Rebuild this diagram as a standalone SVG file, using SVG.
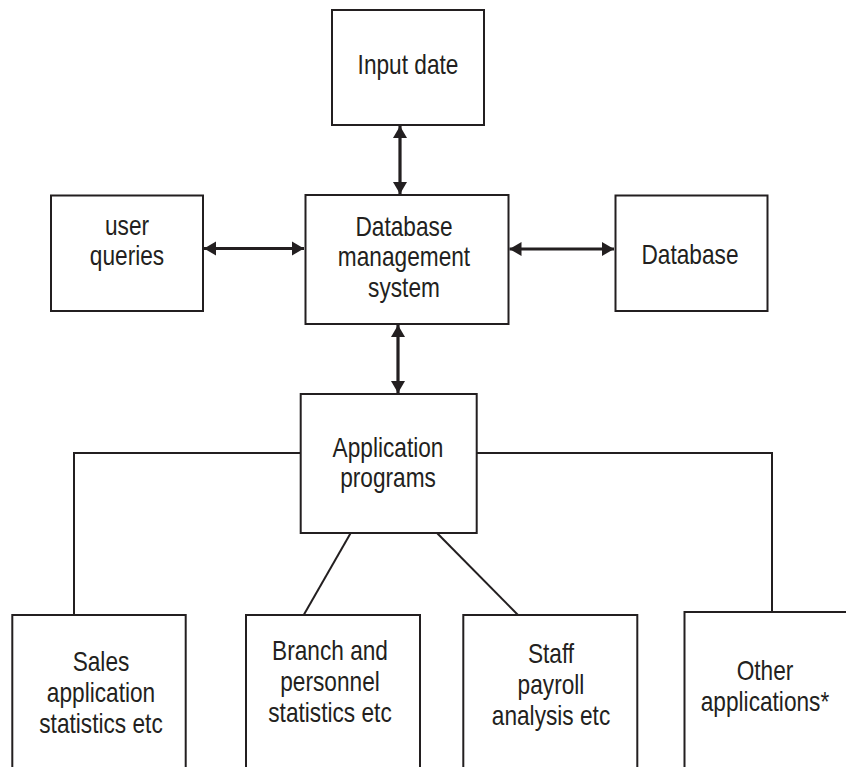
<svg xmlns="http://www.w3.org/2000/svg" width="846" height="767" viewBox="0 0 846 767">
<defs>
<style>
.box{fill:#fff;stroke:#231f20;stroke-width:2}
.lbl{font-family:"Liberation Sans",Arial,sans-serif;font-size:27px;fill:#231f20;text-anchor:middle}
.arr{stroke:#231f20;stroke-width:3.2;fill:none;marker-start:url(#ah);marker-end:url(#ah)}
.ln{stroke:#231f20;stroke-width:2;fill:none}
</style>
<marker id="ah" markerUnits="userSpaceOnUse" markerWidth="14" markerHeight="16" refX="12" refY="7" orient="auto-start-reverse" viewBox="0 0 14 14">
<path d="M0,0 L12,7 L0,14 z" fill="#231f20"/>
</marker>
</defs>
<rect width="846" height="767" fill="#fff"/>
<g id="connectors">
<line class="arr" x1="400" y1="126" x2="400" y2="194"/>
<line class="arr" x1="204" y1="248.5" x2="304" y2="248.5"/>
<line class="arr" x1="509.5" y1="249" x2="614" y2="249"/>
<line class="arr" x1="398" y1="325" x2="398" y2="393"/>
<polyline class="ln" points="300.7,453 74,453 74,615"/>
<polyline class="ln" points="476.7,453 772,453 772,612"/>
<line class="ln" x1="350.7" y1="533" x2="303.7" y2="615"/>
<line class="ln" x1="437" y1="533" x2="518" y2="615"/>
</g>
<g id="input-date">
<rect class="box" x="332" y="10" width="152" height="115"/>
<text class="lbl" transform="translate(408,74) scale(0.84,1)">Input date</text>
</g>
<g id="user-queries">
<rect class="box" x="51" y="195.5" width="152" height="115.5"/>
<text class="lbl" transform="translate(127,235) scale(0.84,1)">user</text>
<text class="lbl" transform="translate(127,265) scale(0.84,1)">queries</text>
</g>
<g id="dbms">
<rect class="box" x="305.5" y="195" width="203" height="129"/>
<text class="lbl" transform="translate(404,235.5) scale(0.84,1)">Database</text>
<text class="lbl" transform="translate(404,266) scale(0.84,1)">management</text>
<text class="lbl" transform="translate(404,297) scale(0.84,1)">system</text>
</g>
<g id="database">
<rect class="box" x="615.5" y="195.5" width="152" height="115.5"/>
<text class="lbl" transform="translate(690,263.5) scale(0.84,1)">Database</text>
</g>
<g id="application-programs">
<rect class="box" x="300.7" y="394" width="176" height="139"/>
<text class="lbl" transform="translate(388,456.5) scale(0.84,1)">Application</text>
<text class="lbl" transform="translate(388,487) scale(0.84,1)">programs</text>
</g>
<g id="sales">
<rect class="box" x="12.3" y="615" width="173.4" height="170"/>
<text class="lbl" transform="translate(101,671) scale(0.84,1)">Sales</text>
<text class="lbl" transform="translate(101,702) scale(0.84,1)">application</text>
<text class="lbl" transform="translate(101,733) scale(0.84,1)">statistics etc</text>
</g>
<g id="branch">
<rect class="box" x="246" y="615" width="174" height="170"/>
<text class="lbl" transform="translate(330,660) scale(0.84,1)">Branch and</text>
<text class="lbl" transform="translate(330,691) scale(0.84,1)">personnel</text>
<text class="lbl" transform="translate(330,722) scale(0.84,1)">statistics etc</text>
</g>
<g id="staff">
<rect class="box" x="463.3" y="615" width="174" height="170"/>
<text class="lbl" transform="translate(551,663) scale(0.84,1)">Staff</text>
<text class="lbl" transform="translate(551,694) scale(0.84,1)">payroll</text>
<text class="lbl" transform="translate(551,725) scale(0.84,1)">analysis etc</text>
</g>
<g id="other">
<rect class="box" x="684.5" y="612" width="180" height="175"/>
<text class="lbl" transform="translate(765,680) scale(0.84,1)">Other</text>
<text class="lbl" transform="translate(765,710.5) scale(0.84,1)">applications*</text>
</g>
</svg>
